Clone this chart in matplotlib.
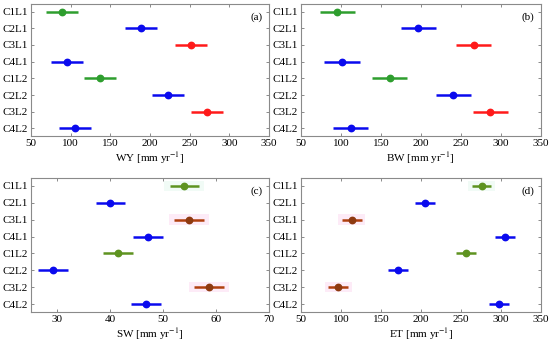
import matplotlib
matplotlib.use("Agg")
import matplotlib.pyplot as plt
from matplotlib.ticker import MultipleLocator

categories = ["C1L1", "C2L1", "C3L1", "C4L1", "C1L2", "C2L2", "C3L2", "C4L2"]

wy = [89.5, 189, 251.7, 95, 136.6, 222.7, 271.4, 105.5]
wy_err = [20, 20, 20, 20, 20, 20, 20, 20]
bw = [95.5, 196.8, 266.5, 101.3, 161.4, 240.7, 287, 112.2]
bw_err = [22, 22, 22, 22, 22, 22, 22, 22]
sw = [54.0, 40.0, 54.9, 47.1, 41.4, 29.2, 58.6, 46.8]
sw_err = [2.8, 2.8, 2.8, 2.8, 2.8, 2.8, 2.8, 2.8]
et = [276.1, 205.2, 113.8, 305.3, 256.5, 171.8, 96.7, 298.2]
et_err = [12.5, 12.5, 12.5, 12.5, 12.5, 12.5, 12.5, 12.5]

colors_top = ["#2e9e2e", "#0a0aee", "#ff1a1a", "#0a0aee", "#2e9e2e", "#0a0aee", "#ff1a1a", "#0a0aee"]
colors_bot = ["#5e9320", "#0a0aee", "#8e3a10", "#0a0aee", "#5e9320", "#0a0aee", "#8e3a10", "#0a0aee"]
line_bot = ["#5e9320", "#0a0aee", "#b0400f", "#0a0aee", "#5e9320", "#0a0aee", "#b0400f", "#0a0aee"]
shade_bot = ["#f1fbf6", None, "#fdebf7", None, None, None, "#fdebf7", None]

plt.rcParams['font.family'] = ['Liberation Serif', 'DejaVu Serif']
plt.rcParams['mathtext.fontset'] = 'stix'

fig = plt.figure(figsize=(5.5, 3.45), dpi=100)
W, H = 550, 345

def make_ax(l, r, t, b):
    return fig.add_axes([l / W, 1 - b / H, (r - l) / W, (b - t) / H])

axes = [
    make_ax(31, 269, 4, 136),
    make_ax(301, 540.5, 4, 136),
    make_ax(31, 269, 178, 312),
    make_ax(301, 540.5, 178, 312),
]

panels = [
    (wy, wy_err, "WY", "(a)", (50, 350), 50, colors_top, colors_top, [None] * 8),
    (bw, bw_err, "BW", "(b)", (50, 350), 50, colors_top, colors_top, [None] * 8),
    (sw, sw_err, "SW", "(c)", (25, 70), 10, colors_bot, line_bot, shade_bot),
    (et, et_err, "ET", "(d)", (50, 350), 50, colors_bot, line_bot, shade_bot),
]

ypos = list(range(1, len(categories) + 1))

for ax, (vals, errs, name, tag, xl, step, mcol, lcol, shade) in zip(axes, panels):
    for y, v, e, mc, lc, sh in zip(ypos, vals, errs, mcol, lcol, shade):
        if sh is not None:
            ax.fill_between([v - e * 1.35, v + e * 1.35], y - 0.3, y + 0.3,
                            color=sh, lw=0, zorder=1)
        ax.plot([v - e, v + e], [y, y], color=lc, lw=1.8, solid_capstyle='butt', zorder=2)
        ax.plot([v], [y], 'o', color=mc, ms=4.6, mec=mc, zorder=3)
    ax.set_xlim(*xl)
    ax.set_ylim(8.45, 0.55)
    ax.xaxis.set_major_locator(MultipleLocator(step))
    ax.set_yticks(ypos)
    ax.set_yticklabels(categories)
    ax.tick_params(direction='in', top=True, right=True, length=2.5, width=0.6,
                   color='#777777', labelsize=8, pad=2.5)
    for s in ax.spines.values():
        s.set_color('#8a8a8a')
        s.set_linewidth(0.8)
    ax.set_xlabel(name + r" [mm yr$^{-1}$]", fontsize=8, labelpad=1.5)
    ax.text(0.975, 0.9, tag, transform=ax.transAxes, ha='right', va='center', fontsize=8)

fig.savefig("out.png", dpi=100)
